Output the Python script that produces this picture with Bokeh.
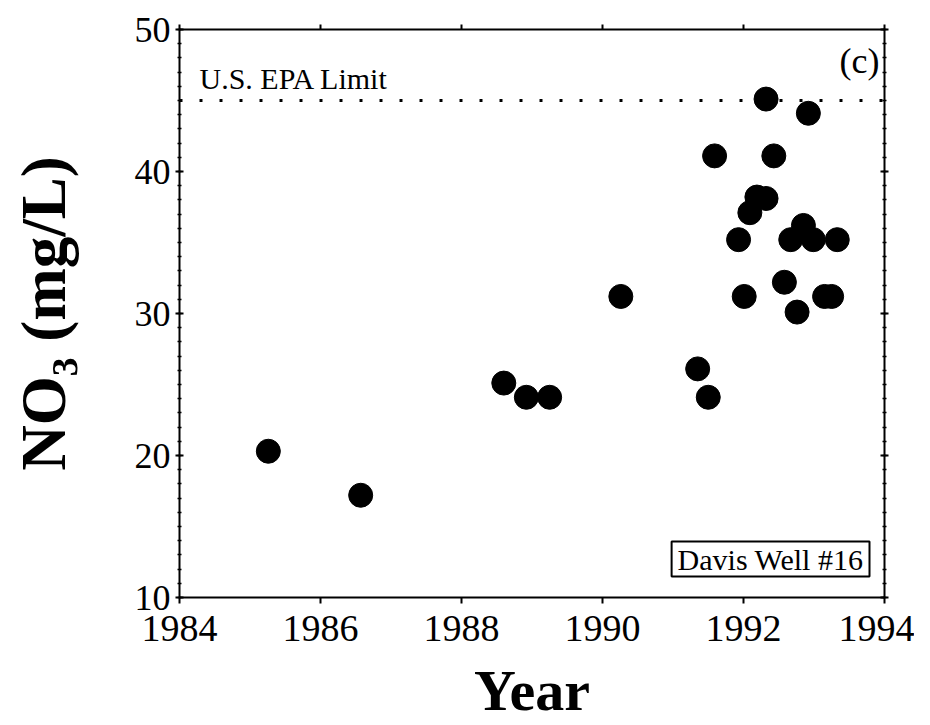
from bokeh.plotting import figure
from bokeh.models import LinearAxis, SingleIntervalTicker, Span, Label, Range1d
from bokeh.embed import file_html
from bokeh.resources import INLINE

# ---- data ----
years = [1985.26, 1986.57, 1988.60, 1988.92, 1989.25, 1990.26, 1991.35, 1991.50,
         1991.59, 1991.93, 1992.01, 1992.09, 1992.19, 1992.32, 1992.32, 1992.43,
         1992.58, 1992.67, 1992.76, 1992.85, 1992.92, 1992.99, 1993.15, 1993.25,
         1993.33]
no3 = [20.3, 17.2, 25.1, 24.1, 24.1, 31.2, 26.1, 24.1,
       41.1, 35.2, 31.2, 37.1, 38.2, 38.1, 45.1, 41.1,
       32.2, 35.2, 30.1, 36.2, 44.1, 35.2, 31.2, 31.2,
       35.2]
epa_limit = 45
x_min, x_max = 1984, 1994
y_min, y_max = 10, 50

FONT = "Liberation Serif"

p = figure(width=914, height=725, output_backend="svg", toolbar_location=None,
           x_range=Range1d(x_min, x_max), y_range=Range1d(y_min, y_max),
           min_border_left=179, min_border_right=30, min_border_top=29,
           min_border_bottom=127)
p.outline_line_color = None
p.xgrid.visible = False
p.ygrid.visible = False
p.background_fill_color = "white"
p.border_fill_color = "white"

xt = SingleIntervalTicker(interval=2, num_minor_ticks=0)
yt = SingleIntervalTicker(interval=10, num_minor_ticks=10)

# bottom axis
xa = p.xaxis[0]
xa.ticker = xt
xa.axis_line_width = 2
xa.major_tick_line_width = 2
xa.major_tick_out = 6
xa.major_tick_in = 0
xa.minor_tick_line_color = None
xa.major_label_text_font = FONT
xa.major_label_text_font_size = "38px"
xa.major_label_text_color = "black"
xa.major_label_standoff = 12
xa.axis_label = "Year"
xa.axis_label_text_font = FONT
xa.axis_label_text_font_style = "bold"
xa.axis_label_text_font_size = "58px"
xa.axis_label_text_color = "black"
xa.axis_label_standoff = 14

# left axis
ya = p.yaxis[0]
ya.ticker = yt
ya.axis_line_width = 2
ya.major_tick_line_width = 2
ya.major_tick_out = 4
ya.major_tick_in = 4
ya.minor_tick_out = 2
ya.minor_tick_in = 2
ya.minor_tick_line_width = 1.5
ya.major_label_text_font = FONT
ya.major_label_text_font_size = "36px"
ya.major_label_text_color = "black"
ya.major_label_standoff = 5
ya.axis_label = "NO\u2083 (mg/L)"
ya.axis_label_text_font = FONT
ya.axis_label_text_font_style = "bold"
ya.axis_label_text_font_size = "63px"
ya.axis_label_text_color = "black"
ya.axis_label_standoff = 53

# top axis (ticks only)
ta = LinearAxis(ticker=xt, axis_line_width=2, major_tick_line_width=2,
                major_tick_out=5, major_tick_in=0, minor_tick_line_color=None,
                major_label_text_font_size="0px", major_label_standoff=0)
p.add_layout(ta, "above")

# right axis (ticks only)
ra = LinearAxis(ticker=yt, axis_line_width=2, major_tick_line_width=2,
                major_tick_out=4, major_tick_in=4, minor_tick_out=2, minor_tick_in=2,
                minor_tick_line_width=1.5,
                major_label_text_font_size="0px", major_label_standoff=0)
p.add_layout(ra, "right")

# EPA limit line
p.add_layout(Span(location=epa_limit, dimension="width", line_color="black",
                  line_width=3, line_dash="3 17"))
p.add_layout(Label(x=x_min, y=epa_limit, text="U.S. EPA Limit", x_offset=20, y_offset=6,
                   text_font=FONT, text_font_size="30px", text_color="black",
                   text_baseline="bottom", text_align="left"))

# data points
p.scatter(years, no3, size=24, marker="circle", fill_color="black", line_color="black")

# panel tag
p.add_layout(Label(x=x_max, y=y_max, text="(c)", x_offset=-5, y_offset=-11,
                   text_font=FONT, text_font_size="36px", text_color="black",
                   text_align="right", text_baseline="top"))

# well name box
p.add_layout(Label(x=x_max, y=y_min, text="Davis Well #16", x_offset=-15, y_offset=21,
                   text_font=FONT, text_font_size="30px", text_color="black",
                   text_align="right", text_baseline="bottom",
                   border_line_color="black", border_line_width=2,
                   background_fill_color="white", padding=(6, 1)))

open("out.html", "w").write(file_html(p, INLINE))
